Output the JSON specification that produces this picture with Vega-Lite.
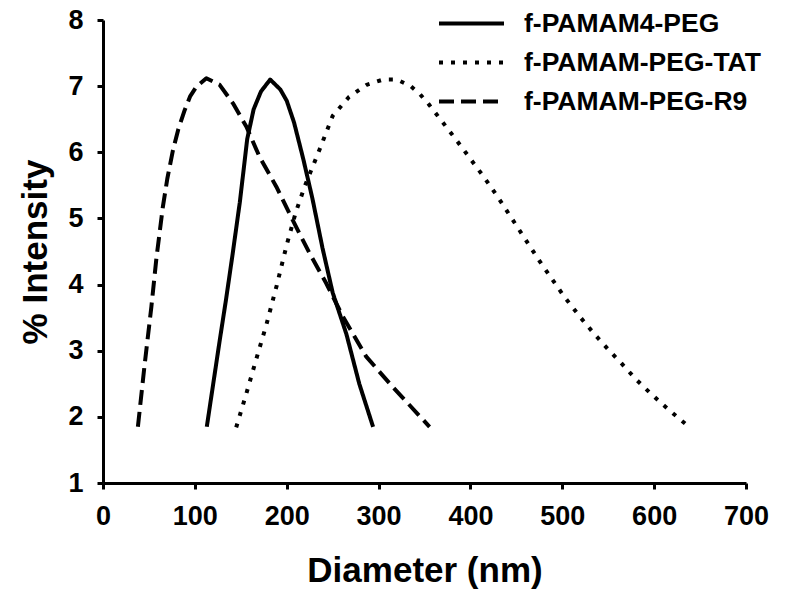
{
  "$schema": "https://vega.github.io/schema/vega-lite/v6.json",
  "width": 643,
  "height": 463,
  "autosize": {"type": "none"},
  "padding": {"left": 103, "top": 20, "right": 45, "bottom": 118},
  "background": "white",
  "config": {"view": {"stroke": null}, "font": "Liberation Sans"},
  "data": {
    "values": [
      {"sample": "f-PAMAM4-PEG", "diameter": 113, "intensity": 1.85},
      {"sample": "f-PAMAM4-PEG", "diameter": 120, "intensity": 2.5},
      {"sample": "f-PAMAM4-PEG", "diameter": 127, "intensity": 3.15},
      {"sample": "f-PAMAM4-PEG", "diameter": 134, "intensity": 3.78},
      {"sample": "f-PAMAM4-PEG", "diameter": 141, "intensity": 4.45},
      {"sample": "f-PAMAM4-PEG", "diameter": 149, "intensity": 5.25},
      {"sample": "f-PAMAM4-PEG", "diameter": 157, "intensity": 6.2},
      {"sample": "f-PAMAM4-PEG", "diameter": 164, "intensity": 6.65},
      {"sample": "f-PAMAM4-PEG", "diameter": 172, "intensity": 6.92},
      {"sample": "f-PAMAM4-PEG", "diameter": 182, "intensity": 7.1},
      {"sample": "f-PAMAM4-PEG", "diameter": 193, "intensity": 6.95},
      {"sample": "f-PAMAM4-PEG", "diameter": 200, "intensity": 6.78},
      {"sample": "f-PAMAM4-PEG", "diameter": 208, "intensity": 6.45},
      {"sample": "f-PAMAM4-PEG", "diameter": 218, "intensity": 5.9},
      {"sample": "f-PAMAM4-PEG", "diameter": 228, "intensity": 5.3},
      {"sample": "f-PAMAM4-PEG", "diameter": 239, "intensity": 4.55},
      {"sample": "f-PAMAM4-PEG", "diameter": 250, "intensity": 3.88},
      {"sample": "f-PAMAM4-PEG", "diameter": 265, "intensity": 3.25},
      {"sample": "f-PAMAM4-PEG", "diameter": 279, "intensity": 2.5},
      {"sample": "f-PAMAM4-PEG", "diameter": 294, "intensity": 1.85},

      {"sample": "f-PAMAM-PEG-TAT", "diameter": 145, "intensity": 1.84},
      {"sample": "f-PAMAM-PEG-TAT", "diameter": 156, "intensity": 2.35},
      {"sample": "f-PAMAM-PEG-TAT", "diameter": 167, "intensity": 2.88},
      {"sample": "f-PAMAM-PEG-TAT", "diameter": 178, "intensity": 3.4},
      {"sample": "f-PAMAM-PEG-TAT", "diameter": 189, "intensity": 3.98},
      {"sample": "f-PAMAM-PEG-TAT", "diameter": 200, "intensity": 4.6},
      {"sample": "f-PAMAM-PEG-TAT", "diameter": 210, "intensity": 5.1},
      {"sample": "f-PAMAM-PEG-TAT", "diameter": 220, "intensity": 5.5},
      {"sample": "f-PAMAM-PEG-TAT", "diameter": 236, "intensity": 6.05},
      {"sample": "f-PAMAM-PEG-TAT", "diameter": 250, "intensity": 6.55},
      {"sample": "f-PAMAM-PEG-TAT", "diameter": 268, "intensity": 6.84},
      {"sample": "f-PAMAM-PEG-TAT", "diameter": 287, "intensity": 7.02},
      {"sample": "f-PAMAM-PEG-TAT", "diameter": 305, "intensity": 7.1},
      {"sample": "f-PAMAM-PEG-TAT", "diameter": 320, "intensity": 7.1},
      {"sample": "f-PAMAM-PEG-TAT", "diameter": 335, "intensity": 7.0},
      {"sample": "f-PAMAM-PEG-TAT", "diameter": 345, "intensity": 6.88},
      {"sample": "f-PAMAM-PEG-TAT", "diameter": 355, "intensity": 6.72},
      {"sample": "f-PAMAM-PEG-TAT", "diameter": 370, "intensity": 6.45},
      {"sample": "f-PAMAM-PEG-TAT", "diameter": 385, "intensity": 6.18},
      {"sample": "f-PAMAM-PEG-TAT", "diameter": 400, "intensity": 5.9},
      {"sample": "f-PAMAM-PEG-TAT", "diameter": 415, "intensity": 5.62},
      {"sample": "f-PAMAM-PEG-TAT", "diameter": 430, "intensity": 5.32},
      {"sample": "f-PAMAM-PEG-TAT", "diameter": 445, "intensity": 5.0},
      {"sample": "f-PAMAM-PEG-TAT", "diameter": 460, "intensity": 4.68},
      {"sample": "f-PAMAM-PEG-TAT", "diameter": 475, "intensity": 4.36},
      {"sample": "f-PAMAM-PEG-TAT", "diameter": 490, "intensity": 4.06},
      {"sample": "f-PAMAM-PEG-TAT", "diameter": 502, "intensity": 3.82},
      {"sample": "f-PAMAM-PEG-TAT", "diameter": 520, "intensity": 3.5},
      {"sample": "f-PAMAM-PEG-TAT", "diameter": 535, "intensity": 3.25},
      {"sample": "f-PAMAM-PEG-TAT", "diameter": 550, "intensity": 3.02},
      {"sample": "f-PAMAM-PEG-TAT", "diameter": 565, "intensity": 2.8},
      {"sample": "f-PAMAM-PEG-TAT", "diameter": 580, "intensity": 2.57},
      {"sample": "f-PAMAM-PEG-TAT", "diameter": 595, "intensity": 2.37},
      {"sample": "f-PAMAM-PEG-TAT", "diameter": 610, "intensity": 2.18},
      {"sample": "f-PAMAM-PEG-TAT", "diameter": 625, "intensity": 2.0},
      {"sample": "f-PAMAM-PEG-TAT", "diameter": 638, "intensity": 1.85},

      {"sample": "f-PAMAM-PEG-R9", "diameter": 38, "intensity": 1.85},
      {"sample": "f-PAMAM-PEG-R9", "diameter": 45, "intensity": 2.75},
      {"sample": "f-PAMAM-PEG-R9", "diameter": 52.7, "intensity": 3.67},
      {"sample": "f-PAMAM-PEG-R9", "diameter": 58, "intensity": 4.38},
      {"sample": "f-PAMAM-PEG-R9", "diameter": 65, "intensity": 5.16},
      {"sample": "f-PAMAM-PEG-R9", "diameter": 70, "intensity": 5.6},
      {"sample": "f-PAMAM-PEG-R9", "diameter": 76, "intensity": 6.02},
      {"sample": "f-PAMAM-PEG-R9", "diameter": 82, "intensity": 6.35},
      {"sample": "f-PAMAM-PEG-R9", "diameter": 89, "intensity": 6.64},
      {"sample": "f-PAMAM-PEG-R9", "diameter": 95, "intensity": 6.85},
      {"sample": "f-PAMAM-PEG-R9", "diameter": 101.6, "intensity": 6.99},
      {"sample": "f-PAMAM-PEG-R9", "diameter": 112.5, "intensity": 7.12},
      {"sample": "f-PAMAM-PEG-R9", "diameter": 127, "intensity": 7.02},
      {"sample": "f-PAMAM-PEG-R9", "diameter": 141.5, "intensity": 6.74},
      {"sample": "f-PAMAM-PEG-R9", "diameter": 156, "intensity": 6.39},
      {"sample": "f-PAMAM-PEG-R9", "diameter": 170.5, "intensity": 5.93},
      {"sample": "f-PAMAM-PEG-R9", "diameter": 188.7, "intensity": 5.48},
      {"sample": "f-PAMAM-PEG-R9", "diameter": 206.7, "intensity": 4.97},
      {"sample": "f-PAMAM-PEG-R9", "diameter": 225, "intensity": 4.47},
      {"sample": "f-PAMAM-PEG-R9", "diameter": 243, "intensity": 4.02},
      {"sample": "f-PAMAM-PEG-R9", "diameter": 261, "intensity": 3.52},
      {"sample": "f-PAMAM-PEG-R9", "diameter": 286.6, "intensity": 2.91},
      {"sample": "f-PAMAM-PEG-R9", "diameter": 315.6, "intensity": 2.45},
      {"sample": "f-PAMAM-PEG-R9", "diameter": 355.5, "intensity": 1.85}
    ]
  },
  "mark": {"type": "line", "color": "black", "strokeWidth": 4, "strokeJoin": "round"},
  "encoding": {
    "x": {
      "field": "diameter",
      "type": "quantitative",
      "scale": {"domain": [0, 700], "nice": false, "zero": false},
      "axis": {
        "title": "Diameter (nm)",
        "values": [0, 100, 200, 300, 400, 500, 600, 700],
        "grid": false,
        "domainColor": "black",
        "domainWidth": 3,
        "tickColor": "black",
        "tickWidth": 3,
        "tickSize": 6,
        "labelFont": "Liberation Sans",
        "labelFontWeight": "bold",
        "labelFontSize": 27,
        "labelColor": "black",
        "labelPadding": 14,
        "labelFlush": false,
        "titleFont": "Liberation Sans",
        "titleFontWeight": "bold",
        "titleFontSize": 35,
        "titleColor": "black",
        "titlePadding": 24
      }
    },
    "y": {
      "field": "intensity",
      "type": "quantitative",
      "scale": {"domain": [1, 8], "nice": false, "zero": false},
      "axis": {
        "title": "% Intensity",
        "values": [1, 2, 3, 4, 5, 6, 7, 8],
        "grid": false,
        "domainColor": "black",
        "domainWidth": 3,
        "tickColor": "black",
        "tickWidth": 3,
        "tickSize": 6,
        "labelFont": "Liberation Sans",
        "labelFontWeight": "bold",
        "labelFontSize": 27,
        "labelColor": "black",
        "labelPadding": 14,
        "labelFlush": false,
        "titleFont": "Liberation Sans",
        "titleFontWeight": "bold",
        "titleFontSize": 35,
        "titleColor": "black",
        "titlePadding": 14
      }
    },
    "strokeDash": {
      "field": "sample",
      "type": "nominal",
      "scale": {
        "domain": ["f-PAMAM4-PEG", "f-PAMAM-PEG-TAT", "f-PAMAM-PEG-R9"],
        "range": [[1, 0], [4, 8], [15, 7]]
      },
      "legend": {
        "orient": "none",
        "legendX": 334,
        "legendY": -9,
        "title": null,
        "padding": 0,
        "symbolType": "stroke",
        "symbolSize": 4225,
        "symbolStrokeWidth": 4,
        "symbolStrokeColor": "black",
        "clipHeight": 25,
        "rowPadding": 12,
        "labelOffset": 18,
        "labelFont": "Liberation Sans",
        "labelFontWeight": "bold",
        "labelFontSize": 26.5,
        "labelColor": "black",
        "labelLimit": 400
      }
    }
  }
}
